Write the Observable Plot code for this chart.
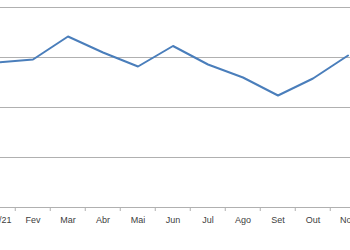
<!DOCTYPE html>
<html>
<head>
<meta charset="utf-8">
<script src="https://cdn.jsdelivr.net/npm/d3@7"></script>
<script src="https://cdn.jsdelivr.net/npm/@observablehq/plot@0.6"></script>
<style>
  html, body { margin: 0; padding: 0; background: #fff; overflow: hidden; }
  #chart svg { display: block; }
</style>
</head>
<body>
<div id="chart"></div>
<script>
const months = ["Jan/21", "Fev", "Mar", "Abr", "Mai", "Jun", "Jul", "Ago", "Set", "Out", "Nov"];
const values = [58, 59.2, 68.4, 62, 56.4, 64.6, 57.2, 52, 44.8, 51.6, 60.8];
const gridValues = [0, 20, 40, 60, 80];

const step = 35.5;
const xRange = [-5 - step / 2, -5 - step / 2 + step * months.length];
const data = months.map((m, i) => ({month: m, value: values[i]}));

const chart = Plot.plot({
  width: 350,
  height: 250,
  marginLeft: 0,
  marginRight: 0,
  marginTop: 7,
  marginBottom: 43,
  style: {fontFamily: "'Liberation Sans', Arial, sans-serif", fontSize: "9px", color: "#404040", background: "#fff"},
  x: {type: "band", domain: months, range: xRange, padding: 0, axis: null, label: null},
  y: {domain: [0, 80], axis: null, label: null},
  marks: [
    Plot.ruleY(gridValues, {stroke: "#b0b0b0", strokeWidth: 1}),
    Plot.axisX({tickSize: 4, tickFormat: () => "", stroke: "#b0b0b0", dx: -step / 2, label: null}),
    Plot.axisX({tickSize: 0, tickPadding: 9.5, fill: "#404040", label: null}),
    Plot.lineY(data, {x: "month", y: "value", stroke: "#4a7ebb", strokeWidth: 2})
  ]
});
document.getElementById("chart").append(chart);
</script>
</body>
</html>
